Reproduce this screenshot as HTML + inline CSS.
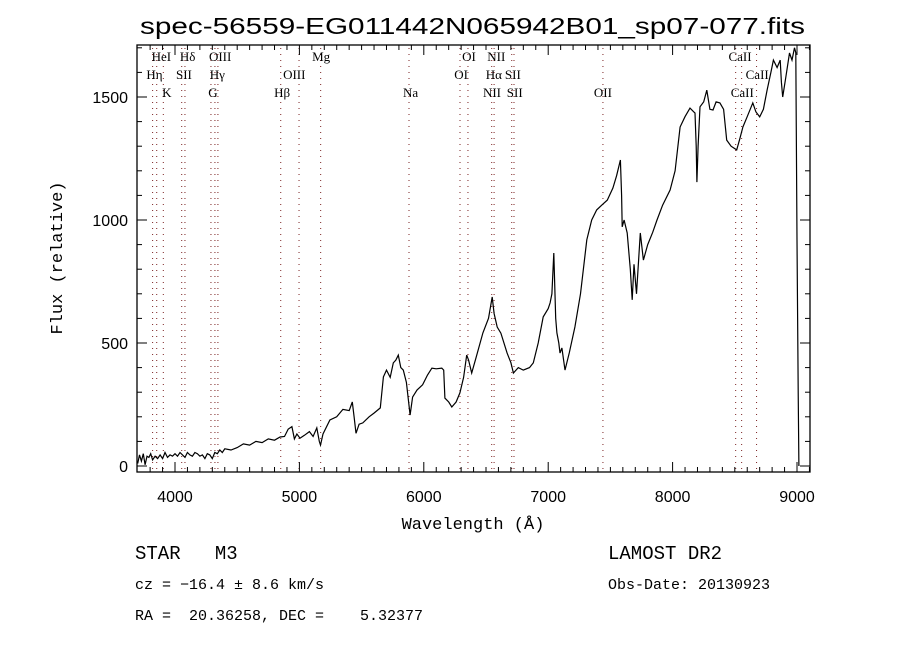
<!DOCTYPE html>
<html><head><meta charset="utf-8">
<style>
body{margin:0;background:#fff;}
svg{display:block;}
text{font-family:"Liberation Serif",serif;fill:#000;}
.lab{font-family:"Liberation Serif",serif;font-size:13px;}
.ax{font-family:"Liberation Sans",sans-serif;font-size:16px;}
.info{font-family:"Liberation Mono",monospace;}
</style></head>
<body>
<svg id="chart" width="900" height="650" viewBox="0 0 900 650" xmlns="http://www.w3.org/2000/svg">
<text x="140" y="34" font-size="23" textLength="665" lengthAdjust="spacingAndGlyphs" style="font-family:'Liberation Sans',sans-serif">spec-56559-EG011442N065942B01_sp07-077.fits</text>
<g id="lines"></g>
<g id="axes"></g>
<path id="spec" fill="none" stroke="#000" stroke-width="1.2"/>
<rect x="137" y="45" width="673" height="427" fill="none" stroke="#000" stroke-width="1.3"/>
<text x="473" y="529" text-anchor="middle" font-size="17" class="info">Wavelength (Å)</text>
<text transform="translate(62,258) rotate(-90)" text-anchor="middle" font-size="17" class="info">Flux (relative)</text>
<text x="135" y="559" font-size="19" class="info" xml:space="preserve">STAR   M3</text>
<text x="135" y="589" font-size="15" class="info">cz = −16.4 ± 8.6 km/s</text>
<text x="135" y="620" font-size="15" class="info" xml:space="preserve">RA =  20.36258, DEC =    5.32377</text>
<text x="608" y="559" font-size="19" class="info">LAMOST DR2</text>
<text x="608" y="589" font-size="15" class="info">Obs-Date: 20130923</text>
</svg>
<script>
const wavelength=[3700,3715,3730,3745,3760,3775,3790,3805,3820,3840,3860,3880,3900,3920,3940,3960,3980,4000,4020,4040,4060,4080,4100,4120,4140,4160,4180,4200,4220,4240,4260,4280,4300,4320,4340,4360,4380,4400,4450,4500,4550,4600,4650,4700,4750,4800,4845,4880,4910,4940,4960,4980,5005,5040,5080,5110,5140,5160,5170,5190,5245,5300,5350,5400,5425,5440,5455,5480,5510,5560,5600,5650,5675,5700,5730,5755,5775,5795,5815,5835,5860,5890,5910,5945,5990,6030,6065,6100,6145,6160,6170,6200,6225,6260,6290,6320,6345,6360,6385,6420,6475,6520,6550,6565,6590,6620,6670,6700,6720,6760,6800,6850,6880,6920,6960,7000,7015,7030,7045,7060,7070,7085,7095,7110,7135,7170,7215,7260,7310,7350,7390,7430,7475,7520,7550,7580,7590,7595,7610,7635,7660,7675,7690,7710,7740,7765,7800,7840,7875,7920,7980,8020,8060,8100,8140,8170,8180,8190,8195,8205,8220,8250,8275,8300,8325,8350,8380,8410,8435,8470,8515,8540,8565,8600,8645,8670,8700,8730,8760,8790,8810,8840,8865,8875,8885,8910,8940,8960,8980,8990,9000,9010,9015];
const flux=[10,45,20,50,5,40,35,50,25,40,30,45,30,55,35,45,40,50,40,55,45,35,55,45,40,55,50,40,45,30,50,45,30,55,50,65,55,70,65,75,90,85,100,95,110,105,118,120,150,160,110,130,113,125,140,120,155,100,85,130,187,200,230,225,260,200,133,170,175,200,215,236,362,390,360,419,430,451,400,390,340,207,280,309,330,370,398,395,398,390,276,260,240,260,297,360,451,430,378,440,541,600,687,620,565,540,459,420,378,400,390,400,419,500,606,640,663,700,866,600,541,500,459,480,390,460,565,700,919,1000,1041,1060,1081,1130,1180,1244,1100,972,1000,947,800,675,820,700,947,837,900,950,1000,1060,1122,1200,1378,1420,1455,1440,1435,1300,1154,1300,1460,1480,1528,1450,1447,1480,1476,1450,1325,1300,1285,1330,1378,1420,1476,1440,1419,1450,1528,1600,1650,1620,1650,1560,1500,1580,1679,1650,1700,1680,919,300,0];
const lineWaves=[3820,3853,3906,4054,4080,4289,4321,4345,4850,4997,5171,5881,6291,6355,6546,6565,6707,6725,7440,8507,8555,8675];
const lineLabels=["HeI","Hδ","OIII","Mg","OI","NII","CaII","Hη","SII","Hγ","OIII","OI","Hα","SII","CaII","K","G","Hβ","Na","NII","SII","OII","CaII"];
const lineLabelWaves=[3890,4102,4363,5175,6363,6583,8542,3835,4072,4340,4959,6300,6563,6716,8680,3934,4305,4861,5894,6548,6731,7440,8560];
const lineLabelRows=[0,0,0,0,0,0,0,1,1,1,1,1,1,1,1,2,2,2,2,2,2,2,2];
const xTicks=[4000,5000,6000,7000,8000,9000];
const yTicks=[0,500,1000,1500];

const X0=137,X1=810,Y0=472,Y1=45;
const xs=w=>175+(w-4000)*0.1244;
const ys=f=>466-f*0.246;
const NS="http://www.w3.org/2000/svg";
function mk(t,a,p){const e=document.createElementNS(NS,t);for(const k in a)e.setAttribute(k,a[k]);p.appendChild(e);return e;}
const axes=document.getElementById('axes'), lines=document.getElementById('lines');
let d="";
for(let i=0;i<wavelength.length;i++){d+=(i?"L":"M")+xs(wavelength[i]).toFixed(1)+" "+Math.max(Y1,ys(flux[i])).toFixed(1);}
document.getElementById('spec').setAttribute('d',d);
for(let w=3800;w<=9100;w+=100){const x=xs(w);if(x<X0||x>X1)continue;const L=(w%1000===0)?10:5;
 let t=mk('line',{x1:x,x2:x,y1:Y0,y2:Y0-L,stroke:'#000'},axes);
 
 t=mk('line',{x1:x,x2:x,y1:Y1,y2:Y1+L,stroke:'#000'},axes);
 }
xTicks.forEach(w=>{const t=mk('text',{x:xs(w),y:502,'text-anchor':'middle',class:'ax'},axes);t.textContent=w;
 });
for(let f=0;f<=1700;f+=100){const y=ys(f);const L=(f%500===0)?10:5;
 let t=mk('line',{x1:X0,x2:X0+L,y1:y,y2:y,stroke:'#000'},axes);
 
 t=mk('line',{x1:X1,x2:X1-L,y1:y,y2:y,stroke:'#000'},axes);
 }
yTicks.forEach(f=>{const t=mk('text',{x:128,y:ys(f)+6,'text-anchor':'end',class:'ax'},axes);t.textContent=f;
 });
lineWaves.forEach(w=>{const x=xs(w);const l=mk('line',{x1:x,x2:x,y1:Y1+3,y2:Y0,stroke:'#7a2020','stroke-width':1,'stroke-dasharray':'1 5'},lines);
 });
const rowY=[61,79,97];
lineLabels.forEach((s,i)=>{const t=mk('text',{x:xs(lineLabelWaves[i]),y:rowY[lineLabelRows[i]],'text-anchor':'middle',class:'lab'},lines);t.textContent=s;
 });
</script>
</body></html>
